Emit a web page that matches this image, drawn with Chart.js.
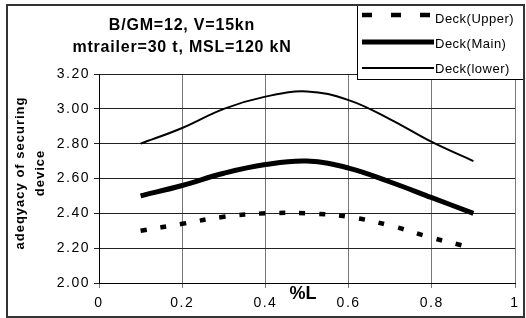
<!DOCTYPE html>
<html>
<head>
<meta charset="utf-8">
<script src="https://cdn.jsdelivr.net/npm/chart.js@4"></script>
<style>
  html, body { margin: 0; padding: 0; background: #ffffff; }
  #chart { display: block; }
</style>
</head>
<body>
<canvas id="chart" width="526" height="318"></canvas>
<script>
// Chart data
const xPositions = [0.1, 0.2, 0.3, 0.4, 0.5, 0.6, 0.7, 0.8, 0.9];
const deckUpper = [2.30, 2.34, 2.38, 2.40, 2.40, 2.38, 2.33, 2.26, 2.20];
const deckMain = [2.50, 2.56, 2.63, 2.68, 2.70, 2.66, 2.58, 2.49, 2.40];
const deckLower = [2.80, 2.89, 3.00, 3.07, 3.10, 3.05, 2.94, 2.81, 2.70];
const seriesNames = ['Deck(Upper)', 'Deck(Main)', 'Deck(lower)'];
const xTickLabels = ['0', '0.2', '0.4', '0.6', '0.8', '1'];
const yTickLabels = ['2.00', '2.20', '2.40', '2.60', '2.80', '3.00', '3.20'];
const titleLines = ['B/GM=12, V=15kn', 'mtrailer=30 t, MSL=120 kN'];
const yTitleLines = ['adeqyacy of securing', 'device'];
const xTitle = '%L';

const FONT = '"Liberation Sans", Arial, sans-serif';

function toPoints(values) {
    return values.map((v, i) => ({ x: xPositions[i], y: v }));
}

// Draws the border, titles and the boxed legend like the original sheet
const decorPlugin = {
    id: 'decor',
    beforeDraw(chart) {
        chart.ctx.letterSpacing = '1.5px';
    },
    afterDraw(chart) {
        const ctx = chart.ctx;
        ctx.letterSpacing = '0px';
        ctx.save();
        ctx.fillStyle = '#000';

        // chart title
        ctx.font = 'bold 16px ' + FONT;
        ctx.letterSpacing = '0.8px';
        ctx.textAlign = 'center';
        ctx.textBaseline = 'middle';
        ctx.fillText(titleLines[0], 182, 26);
        ctx.fillText(titleLines[1], 182, 48);

        // x title
        ctx.font = 'bold 18px ' + FONT;
        ctx.letterSpacing = '0px';
        ctx.fillText(xTitle, 303, 294);

        // y title (rotated)
        ctx.save();
        ctx.translate(20, 173);
        ctx.rotate(-Math.PI / 2);
        ctx.font = 'bold 13px ' + FONT;
        ctx.letterSpacing = '1px';
        ctx.fillText(yTitleLines[0], 0, 0);
        ctx.fillText(yTitleLines[1], 0, 20);
        ctx.restore();

        // legend box
        ctx.fillStyle = '#fff';
        ctx.fillRect(357, 5, 168, 75);
        ctx.strokeStyle = '#000';
        ctx.lineWidth = 1;
        ctx.strokeRect(357.5, 5.5, 167, 74);

        const rows = [15, 42, 68];
        const textRows = [19, 44, 69];
        chart.data.datasets.forEach((ds, i) => {
            ctx.beginPath();
            ctx.lineWidth = ds.borderWidth;
            ctx.strokeStyle = '#000';
            ctx.lineCap = 'butt';
            ctx.setLineDash(ds.borderDash && ds.borderDash.length ? [10, 19] : []);
            ctx.moveTo(362, rows[i]);
            ctx.lineTo(434, rows[i]);
            ctx.stroke();
            ctx.setLineDash([]);
            ctx.fillStyle = '#000';
            ctx.font = '13px ' + FONT;
            ctx.letterSpacing = '0.5px';
            ctx.textAlign = 'left';
            ctx.textBaseline = 'middle';
            ctx.fillText(ds.label, 435, textRows[i]);
        });

        // outer border
        ctx.letterSpacing = '0px';
        ctx.strokeStyle = '#333';
        ctx.lineWidth = 2;
        ctx.strokeRect(7, 5, 517, 312);
        ctx.restore();
    }
};

const ctx = document.getElementById('chart').getContext('2d');
const chart = new Chart(ctx, {
    type: 'line',
    data: {
        datasets: [{
            label: seriesNames[0],
            data: toPoints(deckUpper),
            borderColor: '#000',
            borderWidth: 4.5,
            borderDash: [6, 14],
            borderCapStyle: 'butt',
            tension: 0.4,
            pointRadius: 0,
            fill: false
        }, {
            label: seriesNames[1],
            data: toPoints(deckMain),
            borderColor: '#000',
            borderWidth: 5,
            tension: 0.4,
            pointRadius: 0,
            fill: false
        }, {
            label: seriesNames[2],
            data: toPoints(deckLower),
            borderColor: '#000',
            borderWidth: 2,
            tension: 0.4,
            pointRadius: 0,
            fill: false
        }]
    },
    options: {
        responsive: false,
        animation: false,
        layout: {
            padding: { top: 74, right: 11, left: 0, bottom: 0 }
        },
        plugins: {
            legend: { display: false },
            tooltip: { enabled: false },
            title: { display: false }
        },
        scales: {
            x: {
                type: 'linear',
                min: 0,
                max: 1,
                afterFit: (scale) => { scale.height = 35; },
                ticks: {
                    stepSize: 0.2,
                    padding: 7,
                    color: '#000',
                    font: { family: FONT, size: 14 },
                    maxRotation: 0,
                    callback: (v, i) => xTickLabels[i]
                },
                grid: {
                    color: '#777',
                    lineWidth: 1,
                    tickLength: 5
                },
                border: { color: '#000', width: 1 }
            },
            y: {
                min: 2,
                max: 3.2,
                afterFit: (scale) => { scale.width = 99; },
                ticks: {
                    stepSize: 0.2,
                    padding: 4,
                    color: '#000',
                    font: { family: FONT, size: 14 },
                    callback: (v, i) => yTickLabels[i]
                },
                grid: {
                    color: '#222',
                    lineWidth: 1,
                    tickLength: 5
                },
                border: { color: '#000', width: 1 }
            }
        }
    },
    plugins: [decorPlugin]
});
</script>
</body>
</html>
